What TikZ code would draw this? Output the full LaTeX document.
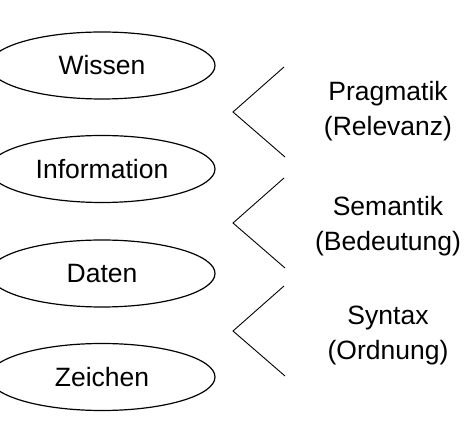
\documentclass[tikz,border=0pt]{standalone}
\usepackage{fontspec}
\setmainfont{Liberation Sans}
\usetikzlibrary{shapes.geometric}

\begin{document}
\begin{tikzpicture}[x=1pt,y=-1pt,every node/.style={font=\fontsize{26.5}{35}\selectfont},
  stufe/.style={draw, ellipse, line width=1.2pt, minimum width=226pt, minimum height=67pt, inner sep=0pt},
  ebene/.style={align=center}]
\useasboundingbox (0,0) rectangle (474,427);
% Stufen
\node[stufe] (wissen) at (102,65.5) {Wissen};
\node[stufe] (information) at (102,169) {Information};
\node[stufe] (daten) at (102,273.5) {Daten};
\node[stufe] (zeichen) at (102,377) {Zeichen};
% Klammern
\foreach \y/\n in {112/prag,223/sem,331/syn}{
  \coordinate (\n-o) at (284,\y-45);
  \coordinate (\n-m) at (233,\y);
  \coordinate (\n-u) at (285,\y+45);
  \draw[line width=0.9pt] (\n-o) -- (\n-m) -- (\n-u);
}
% Ebenen
\node[ebene] (pragmatik) at (388,111) {Pragmatik\\(Relevanz)};
\node[ebene] (semantik) at (388,226) {Semantik\\(Bedeutung)};
\node[ebene] (syntax) at (388,335) {Syntax\\(Ordnung)};
\end{tikzpicture}
\end{document}
